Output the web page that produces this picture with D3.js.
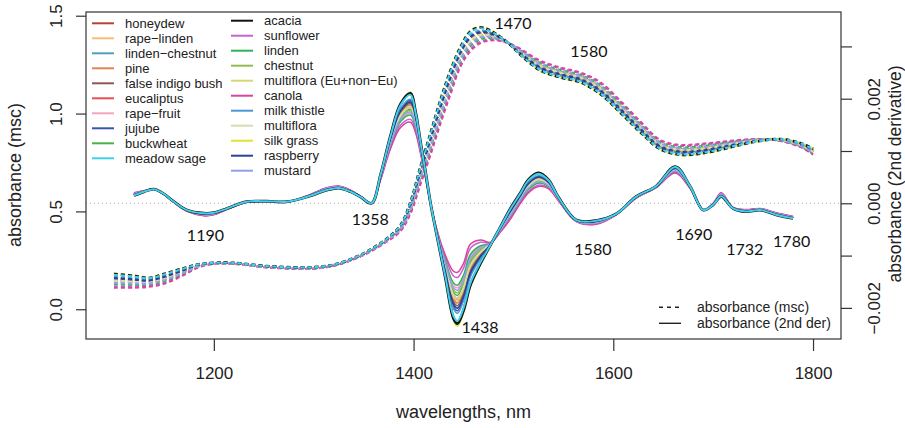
<!DOCTYPE html>
<html><head><meta charset="utf-8">
<script src="https://cdn.jsdelivr.net/npm/d3@7/dist/d3.min.js"></script>
<style>body{margin:0;background:#fff}svg{display:block}</style>
</head><body>
<svg id="chart" width="905" height="428"></svg>
<script>
// ---- data ----
const categories = ["honeydew","rape\u2212linden","linden\u2212chestnut","pine","false indigo bush","eucaliptus","rape\u2212fruit","jujube","buckwheat","meadow sage",
  "acacia","sunflower","linden","chestnut","multiflora (Eu+non\u2212Eu)","canola","milk thistle","multiflora","silk grass","raspberry","mustard"];
const colors = ["#b8403c","#fbbd74","#4f9fb8","#de8552","#8a5a50","#ea4d55","#f5a3bf","#3b52b0","#4fb04a","#3fd0f0",
  "#111111","#c464cc","#2fb25a","#8fbc4c","#d6d672","#d8449f","#4c97d8","#dadab0","#e6e033","#2e3f96","#8fa0ea"];
// relative position of each honey inside the band (0 = acacia-like edge, 1 = canola-like edge)
const bandPosition = [0.45,0.5,0.3,0.4,0.35,0.5,0.7,0.25,0.55,0.05,0.0,0.9,0.75,0.6,0.45,1.0,0.2,0.5,-0.05,0.3,0.65];

const mscWavelengths = [1100,1120,1135,1150,1170,1185,1200,1220,1250,1280,1300,1320,1340,1355,1373,1387,1397,1407,1417,1427,1437,1447,1457,1467,1480,1495,1507,1527,1547,1567,1587,1607,1627,1647,1667,1687,1707,1727,1747,1767,1787,1800];
const mscAcaciaEdge = [0.18,0.17,0.16,0.18,0.21,0.23,0.237,0.237,0.222,0.214,0.215,0.228,0.262,0.30,0.36,0.43,0.55,0.73,0.90,1.07,1.22,1.34,1.42,1.44,1.415,1.36,1.30,1.22,1.185,1.16,1.10,1.005,0.905,0.818,0.79,0.795,0.815,0.84,0.86,0.87,0.85,0.82];
const mscCanolaEdge = [0.11,0.11,0.115,0.13,0.175,0.215,0.232,0.232,0.215,0.207,0.207,0.222,0.255,0.29,0.345,0.40,0.49,0.64,0.79,0.95,1.10,1.24,1.32,1.36,1.375,1.36,1.33,1.27,1.235,1.21,1.16,1.065,0.96,0.865,0.84,0.845,0.855,0.865,0.87,0.86,0.83,0.79];

const derWavelengths = [1120,1130,1140,1150,1160,1173,1190,1200,1213,1233,1253,1273,1293,1313,1325,1337,1347,1358,1367,1377,1387,1397,1402,1407,1412,1417,1424,1432,1440,1444,1450,1457,1467,1477,1487,1497,1507,1515,1525,1535,1545,1563,1583,1603,1623,1643,1662,1677,1690,1700,1708,1720,1733,1747,1763,1780];
const derAcaciaEdge = [0.15,0.22,0.27,0.18,0.03,-0.13,-0.19,-0.18,-0.10,0.03,0.04,0.03,0.12,0.25,0.29,0.22,0.12,0.0,0.55,1.30,1.90,2.10,1.75,1.17,0.60,0.0,-0.68,-1.44,-2.20,-2.30,-2.05,-1.56,-1.15,-0.80,-0.45,-0.10,0.20,0.45,0.58,0.45,0.12,-0.32,-0.33,-0.20,0.13,0.33,0.70,0.32,-0.13,-0.03,0.13,-0.10,-0.16,-0.13,-0.22,-0.29].map(v => v * 1e-3);
const derCanolaEdge = [0.20,0.24,0.27,0.17,0.02,-0.15,-0.24,-0.22,-0.12,0.02,0.03,0.02,0.14,0.30,0.33,0.25,0.13,0.0,0.45,1.05,1.45,1.55,1.35,0.95,0.48,0.0,-0.55,-1.0,-1.30,-1.32,-1.15,-0.78,-0.70,-0.75,-0.55,-0.30,0.0,0.20,0.32,0.28,0.05,-0.35,-0.40,-0.22,0.10,0.30,0.58,0.28,-0.12,0.0,0.20,-0.08,-0.12,-0.10,-0.18,-0.25].map(v => v * 1e-3);

const xTicks = [1200,1400,1600,1800];
const yLeftTicks = [0,0.5,1.0,1.5];
const yRightTicks = [-0.002,-0.001,0,0.001,0.002,0.003];
const yRightLabelled = [-0.002,0,0.002];
const peakLabels = ["1470","1580","1190","1358","1438","1580","1690","1732","1780"];
const peakLabelWl = [1481,1557,1173,1338,1448,1561,1662,1713,1760];
const peakLabelAbs = [1.434,1.288,0.350,0.428,-0.119,0.277,0.354,0.277,0.318];

// ---- build series ----
const series = categories.map((c,i) => ({
  name: c, color: colors[i],
  msc: mscWavelengths.map((w,k) => [w, mscAcaciaEdge[k] + bandPosition[i]*(mscCanolaEdge[k]-mscAcaciaEdge[k])]),
  der: derWavelengths.map((w,k) => [w, derAcaciaEdge[k] + bandPosition[i]*(derCanolaEdge[k]-derAcaciaEdge[k])])
}));
// draw order: acacia and meadow sage on top
const order = d3.range(categories.length).filter(i => i!==10 && i!==9).concat([10,9]);

const svg = d3.select("#chart");
const L=86, R=841, T=12, B=339;
const x = d3.scaleLinear().domain([1072,1828]).range([L,R]);
const yL = d3.scaleLinear().domain([-0.152,1.519]).range([B,T]);
const yR = d3.scaleLinear().domain([-0.002595,0.003658]).range([B,T]);
const font = "'Liberation Sans', Arial, Helvetica, sans-serif";

// zero line of 2nd derivative
svg.append("line").attr("x1",L).attr("x2",R).attr("y1",yR(0)).attr("y2",yR(0))
  .attr("stroke","#b0b0b0").attr("stroke-width",1).attr("stroke-dasharray","1,3");

const g = svg.append("g");
const lineMsc = d3.line().x(d=>x(d[0])).y(d=>yL(d[1])).curve(d3.curveCatmullRom.alpha(0.5));
const lineDer = d3.line().x(d=>x(d[0])).y(d=>yR(d[1])).curve(d3.curveCatmullRom.alpha(0.5));
order.forEach(i => {
  g.append("path").attr("d", lineMsc(series[i].msc)).attr("fill","none")
   .attr("stroke", series[i].color).attr("stroke-width", i===10?2.6:2.1).attr("stroke-dasharray","4,3");
});
order.forEach(i => {
  g.append("path").attr("d", lineDer(series[i].der)).attr("fill","none")
   .attr("stroke", series[i].color).attr("stroke-width", i===10?2.8:(i===9?2:1.5));
});

// box
svg.append("rect").attr("x",L).attr("y",T).attr("width",R-L).attr("height",B-T)
  .attr("fill","none").attr("stroke","#333").attr("stroke-width",1.2);

// axes
const ax = svg.append("g").attr("transform",`translate(0,${B})`)
  .call(d3.axisBottom(x).tickValues(xTicks).tickSize(12).tickFormat(d3.format("d")));
const ayl = svg.append("g").attr("transform",`translate(${L},0)`)
  .call(d3.axisLeft(yL).tickValues(yLeftTicks).tickSize(10).tickFormat(d3.format(".1f")));
const ayr = svg.append("g").attr("transform",`translate(${R},0)`)
  .call(d3.axisRight(yR).tickValues(yRightTicks).tickSize(11)
   .tickFormat(d => yRightLabelled.some(v=>Math.abs(v-d)<1e-9) ? d3.format(".3f")(d).replace("-","\u2212") : ""));
[ax,ayl,ayr].forEach(a => { a.select(".domain").remove(); a.selectAll("line").attr("stroke","#333").attr("stroke-width",1.2); });
ax.selectAll("text").attr("font-family",font).attr("font-size",17).attr("fill","#222").attr("dy",null).attr("y",40);
ayl.selectAll("text").attr("font-family",font).attr("font-size",17).attr("fill","#222")
  .attr("x",null).attr("y",null).attr("dy",null).attr("text-anchor","middle")
  .attr("transform", `translate(${62-L},0) rotate(-90)`);
ayr.selectAll("text").attr("font-family",font).attr("font-size",17).attr("fill","#222")
  .attr("x",null).attr("y",null).attr("dy",null).attr("text-anchor","middle")
  .attr("transform", `translate(${880-R},0) rotate(-90)`);

// axis titles
svg.append("text").attr("x",463.5).attr("y",418).attr("text-anchor","middle")
  .attr("font-family",font).attr("font-size",18).attr("fill","#222").text("wavelengths, nm");
svg.append("text").attr("transform","translate(21,175) rotate(-90)").attr("text-anchor","middle")
  .attr("font-family",font).attr("font-size",18).attr("fill","#222").text("absorbance (msc)");
svg.append("text").attr("transform","translate(901,174) rotate(-90)").attr("text-anchor","middle")
  .attr("font-family",font).attr("font-size",17.5).attr("fill","#222").text("absorbance (2nd derivative)");

// legend of honeys
categories.forEach((c,i) => {
  const col = i < 10 ? 0 : 1;
  const row = col===0 ? i : i-10;
  const yy = col===0 ? 23.3 + row*15 : 20.7 + row*15;
  const lx = col===0 ? 92 : 231;
  const tx = col===0 ? 125 : 264;
  svg.append("line").attr("x1",lx).attr("x2",lx+22).attr("y1",yy).attr("y2",yy)
    .attr("stroke",colors[i]).attr("stroke-width",2);
  svg.append("text").attr("x",tx).attr("y",yy+4.6).attr("font-family",font).attr("font-size",13)
    .attr("fill","#222").text(c);
});

// line-type legend
const lt = [["4,4","absorbance (msc)",307.3],[null,"absorbance (2nd der)",323.3]];
lt.forEach(d => {
  const ln = svg.append("line").attr("x1",659).attr("x2",681).attr("y1",d[2]).attr("y2",d[2])
    .attr("stroke","#222").attr("stroke-width",1.4);
  if (d[0]) ln.attr("stroke-dasharray",d[0]);
  svg.append("text").attr("x",697).attr("y",d[2]+5).attr("font-family",font).attr("font-size",14)
    .attr("fill","#222").text(d[1]);
});

// peak labels
peakLabels.forEach((t,i) => {
  svg.append("text").attr("x",x(peakLabelWl[i])).attr("y",yL(peakLabelAbs[i]))
    .attr("font-family","Lato, 'Open Sans', sans-serif").attr("font-size",16).attr("fill","#111").text(t);
});
</script>
</body></html>
